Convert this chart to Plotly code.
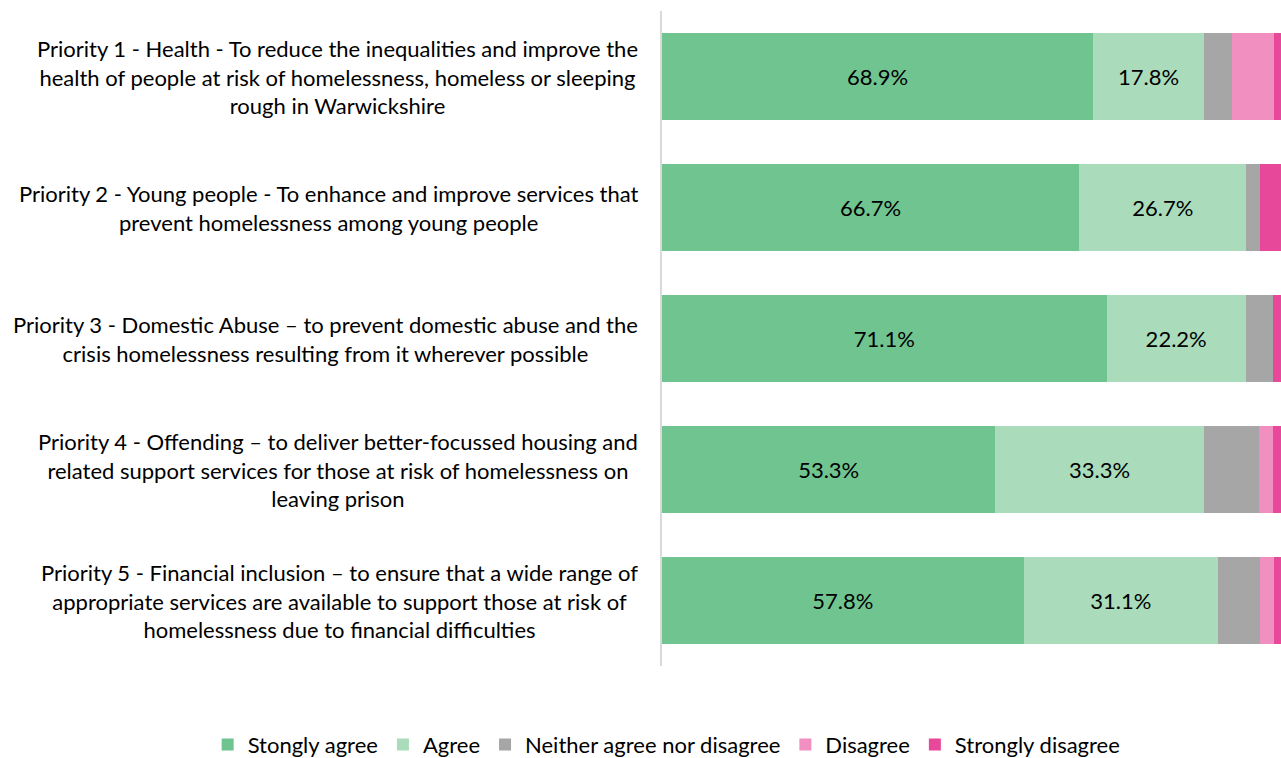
import plotly.graph_objects as go

# Survey: agreement with each homelessness strategy priority (% of respondents)
priorities = [
    "Priority 1 - Health - To reduce the inequalities and improve the<br>health of people at risk of homelessness, homeless or sleeping<br>rough in Warwickshire",
    "Priority 2 - Young people - To enhance and improve services that<br>prevent homelessness among young people",
    "Priority 3 - Domestic Abuse \u2013 to prevent domestic abuse and the<br>crisis homelessness resulting from it wherever possible",
    "Priority 4 - Offending \u2013 to deliver better-focussed housing and<br>related support services for those at risk of homelessness on<br>leaving prison",
    "Priority 5 - Financial inclusion \u2013 to ensure that a wide range of<br>appropriate services are available to support those at risk of<br>homelessness due to financial difficulties",
]
categories = ["P1", "P2", "P3", "P4", "P5"]

strongly_agree = [68.9, 66.7, 71.1, 53.3, 57.8]
agree = [17.8, 26.7, 22.2, 33.3, 31.1]
neither = [4.4, 2.2, 4.4, 8.9, 6.7]
disagree = [6.7, 0.0, 0.0, 2.2, 2.2]
strongly_disagree = [2.2, 4.4, 2.2, 2.2, 2.2]

series = [
    ("Stongly agree", strongly_agree, "#70c48f", True),
    ("Agree", agree, "#aadcbb", True),
    ("Neither agree nor disagree", neither, "#a6a6a6", False),
    ("Disagree", disagree, "#f190c0", False),
    ("Strongly disagree", strongly_disagree, "#e8489a", False),
]

FONT = "Lato, Calibri, Carlito, sans-serif"
FS = 22

fig = go.Figure()
for name, vals, color, labelled in series:
    fig.add_trace(go.Bar(
        name=name,
        y=categories,
        x=vals,
        orientation="h",
        marker=dict(color=color, line=dict(width=0)),
        text=[f"{v:.1f}%" for v in vals] if labelled else None,
        textposition="inside" if labelled else "none",
        insidetextanchor="middle",
        textfont=dict(color="#000000", size=FS, family=FONT),
        hoverinfo="skip",
    ))

# Category descriptions, centred line by line, to the left of the axis
for cat, label in zip(categories, priorities):
    fig.add_annotation(
        x=0, xref="paper", xshift=-22,
        y=cat, yref="y",
        text=label, showarrow=False,
        xanchor="right", yanchor="middle", align="center",
        font=dict(size=FS, color="#000000", family=FONT),
    )

fig.update_layout(
    width=1281, height=758,
    margin=dict(l=662, r=0, t=11, b=92, autoexpand=False),
    barmode="stack",
    bargap=0.336,
    plot_bgcolor="#ffffff",
    paper_bgcolor="#ffffff",
    font=dict(family=FONT, size=FS, color="#000000"),
    uniformtext=dict(minsize=FS, mode="show"),
    showlegend=True,
    legend=dict(
        orientation="h",
        xref="paper", yref="paper",
        x=-0.734, xanchor="left",
        y=-0.088, yanchor="top",
        font=dict(size=FS, family=FONT, color="#000000"),
        traceorder="normal",
        itemwidth=30,
        itemclick=False, itemdoubleclick=False,
    ),
)
fig.update_xaxes(range=[0, 98.96], showgrid=False, zeroline=False,
                 showticklabels=False, showline=False, fixedrange=True)
fig.update_yaxes(autorange="reversed", showgrid=False, zeroline=False,
                 showticklabels=False, showline=True, linecolor="#d9d9d9",
                 linewidth=2, ticks="", fixedrange=True)

fig.write_html("out.html")
